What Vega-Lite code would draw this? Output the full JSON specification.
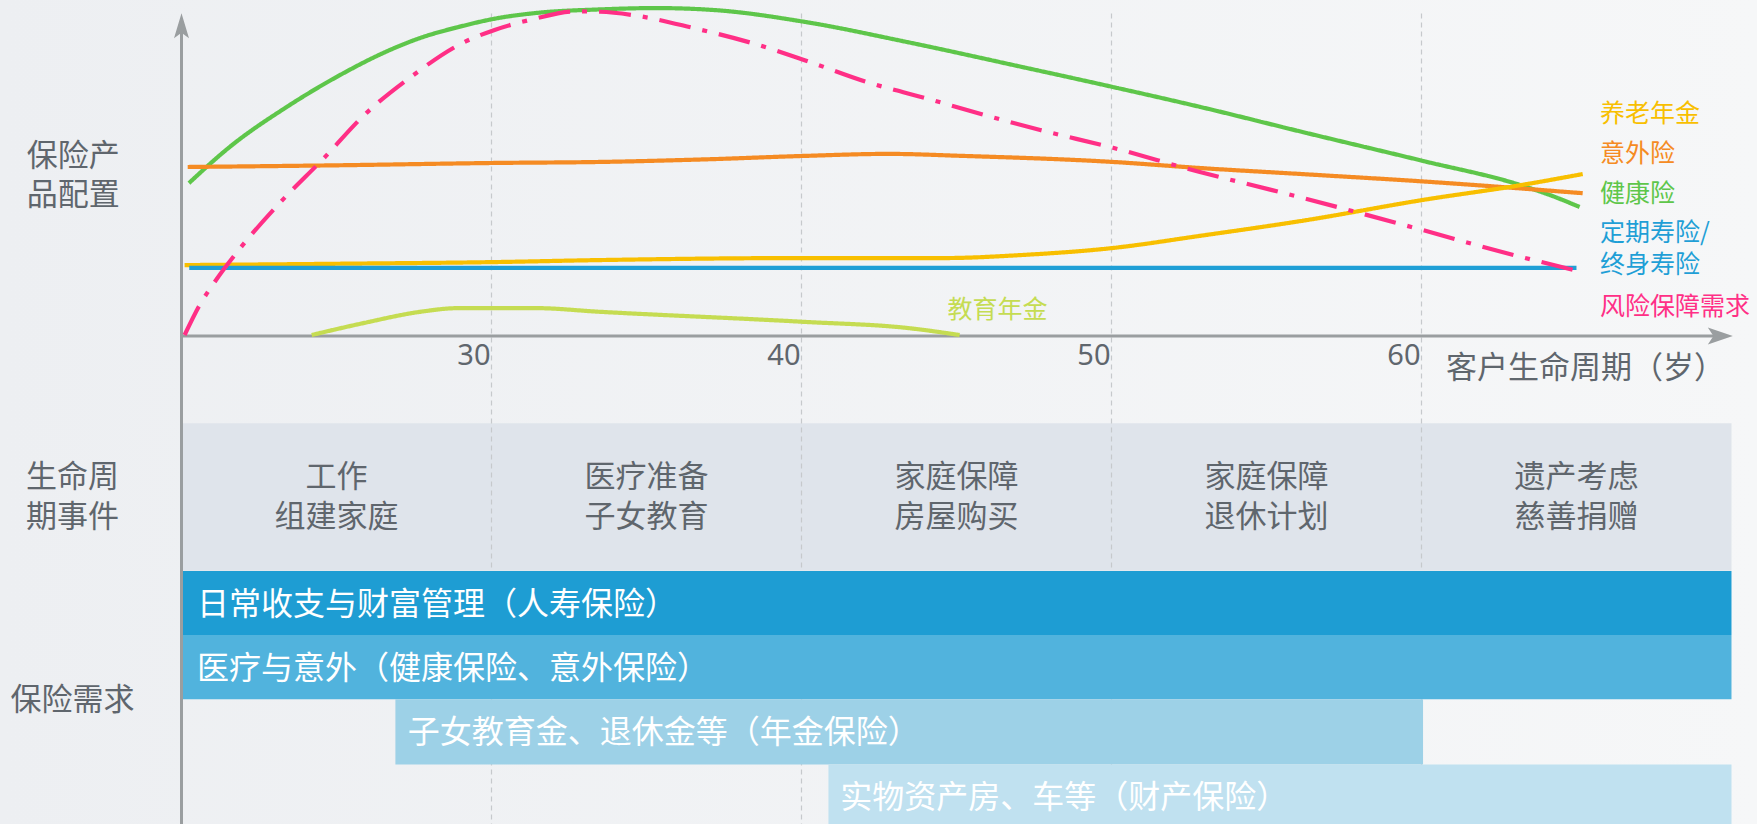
{
  "$schema": "https://vega.github.io/schema/vega-lite/v6.json",
  "width": 1757,
  "height": 824,
  "autosize": {"type": "none"},
  "padding": 0,
  "background": "#f1f3f5",
  "config": {"view": {"stroke": null}, "text": {"font": "Noto Sans CJK SC"}},
  "datasets": {
    "backdrop": [
      {"a0": 14.145, "a1": 70.823, "y0": -145.238, "y1": 100}
    ],
    "bands": [
      {"key": "事件带", "a0": 20, "a1": 70, "y0": -26.0, "y1": -69.9}
    ],
    "grid": [
      {"age": 30, "top": 96, "bottom": -145.238},
      {"age": 40, "top": 96, "bottom": -145.238},
      {"age": 50, "top": 96, "bottom": -145.238},
      {"age": 60, "top": 96, "bottom": -145.238}
    ],
    "bars": [
      {"key": "日常收支", "a0": 20, "a1": 70, "y0": -69.94, "y1": -88.99},
      {"key": "医疗意外", "a0": 20, "a1": 70, "y0": -88.99, "y1": -108.1},
      {"key": "年金", "a0": 26.9, "a1": 60.05, "y0": -108.1, "y1": -127.5},
      {"key": "财产", "a0": 40.87, "a1": 70, "y0": -127.5, "y1": -145.238}
    ],
    "axes": [
      {"a0": 20, "a1": 20, "y0": 92, "y1": -145.238},
      {"a0": 20, "a1": 69.5, "y0": 0, "y1": 0}
    ],
    "curves": [
      {"key": "健康险", "age": 20.24, "level": 45.5},
      {"key": "健康险", "age": 21.56, "level": 56.3},
      {"key": "健康险", "age": 23.4, "level": 68.2},
      {"key": "健康险", "age": 25.24, "level": 78.3},
      {"key": "健康险", "age": 26.5, "level": 84.2},
      {"key": "健康险", "age": 27.7, "level": 88.7},
      {"key": "健康险", "age": 28.95, "level": 92.0},
      {"key": "健康险", "age": 30.2, "level": 94.6},
      {"key": "健康险", "age": 31.4, "level": 96.1},
      {"key": "健康险", "age": 33.5, "level": 97.2},
      {"key": "健康险", "age": 35.3, "level": 97.6},
      {"key": "健康险", "age": 37.2, "level": 97.0},
      {"key": "健康险", "age": 40.1, "level": 93.5},
      {"key": "健康险", "age": 43.4, "level": 87.5},
      {"key": "健康险", "age": 47.1, "level": 80.1},
      {"key": "健康险", "age": 50.05, "level": 74.1},
      {"key": "健康险", "age": 52.85, "level": 68.2},
      {"key": "健康险", "age": 56.3, "level": 60.4},
      {"key": "健康险", "age": 60.05, "level": 52.1},
      {"key": "健康险", "age": 63.2, "level": 44.9},
      {"key": "健康险", "age": 64.3, "level": 41.4},
      {"key": "健康险", "age": 65.1, "level": 38.4},
      {"key": "意外险", "age": 20.2, "level": 50.3},
      {"key": "意外险", "age": 25.0, "level": 50.8},
      {"key": "意外险", "age": 30.1, "level": 51.5},
      {"key": "意外险", "age": 33.5, "level": 51.8},
      {"key": "意外险", "age": 37.0, "level": 52.6},
      {"key": "意外险", "age": 40.1, "level": 53.6},
      {"key": "意外险", "age": 42.8, "level": 54.2},
      {"key": "意外险", "age": 45.2, "level": 53.6},
      {"key": "意外险", "age": 50.05, "level": 51.8},
      {"key": "意外险", "age": 52.85, "level": 50.0},
      {"key": "意外险", "age": 56.5, "level": 48.0},
      {"key": "意外险", "age": 60.05, "level": 46.0},
      {"key": "意外险", "age": 65.2, "level": 42.5},
      {"key": "养老年金", "age": 20.1, "level": 21.1},
      {"key": "养老年金", "age": 25.0, "level": 21.5},
      {"key": "养老年金", "age": 30.1, "level": 22.0},
      {"key": "养老年金", "age": 33.5, "level": 22.6},
      {"key": "养老年金", "age": 40.1, "level": 23.2},
      {"key": "养老年金", "age": 44.6, "level": 23.2},
      {"key": "养老年金", "age": 47.1, "level": 24.1},
      {"key": "养老年金", "age": 50.05, "level": 26.2},
      {"key": "养老年金", "age": 52.85, "level": 29.8},
      {"key": "养老年金", "age": 56.3, "level": 34.5},
      {"key": "养老年金", "age": 60.05, "level": 40.5},
      {"key": "养老年金", "age": 63.2, "level": 44.9},
      {"key": "养老年金", "age": 65.2, "level": 48.2},
      {"key": "定期寿险", "age": 20.25, "level": 20.3},
      {"key": "定期寿险", "age": 65.0, "level": 20.3},
      {"key": "教育年金", "age": 24.2, "level": 0.3},
      {"key": "教育年金", "age": 25.9, "level": 3.9},
      {"key": "教育年金", "age": 27.7, "level": 7.2},
      {"key": "教育年金", "age": 28.95, "level": 8.3},
      {"key": "教育年金", "age": 31.4, "level": 8.3},
      {"key": "教育年金", "age": 33.5, "level": 7.2},
      {"key": "教育年金", "age": 40.1, "level": 4.2},
      {"key": "教育年金", "age": 43.4, "level": 2.4},
      {"key": "教育年金", "age": 45.1, "level": 0.3},
      {"key": "风险保障需求", "age": 20.1, "level": 0.3},
      {"key": "风险保障需求", "age": 20.56, "level": 8.8},
      {"key": "风险保障需求", "age": 21.05, "level": 15.8},
      {"key": "风险保障需求", "age": 21.9, "level": 26.2},
      {"key": "风险保障需求", "age": 23.2, "level": 39.9},
      {"key": "风险保障需求", "age": 24.6, "level": 53.0},
      {"key": "风险保障需求", "age": 25.9, "level": 65.8},
      {"key": "风险保障需求", "age": 27.4, "level": 77.1},
      {"key": "风险保障需求", "age": 29.0, "level": 86.9},
      {"key": "风险保障需求", "age": 30.1, "level": 91.1},
      {"key": "风险保障需求", "age": 31.3, "level": 94.2},
      {"key": "风险保障需求", "age": 32.7, "level": 96.6},
      {"key": "风险保障需求", "age": 33.5, "level": 96.5},
      {"key": "风险保障需求", "age": 34.7, "level": 95.3},
      {"key": "风险保障需求", "age": 36.5, "level": 91.7},
      {"key": "风险保障需求", "age": 38.4, "level": 87.2},
      {"key": "风险保障需求", "age": 40.1, "level": 82.1},
      {"key": "风险保障需求", "age": 42.1, "level": 75.6},
      {"key": "风险保障需求", "age": 44.0, "level": 70.8},
      {"key": "风险保障需求", "age": 45.9, "level": 65.8},
      {"key": "风险保障需求", "age": 47.7, "level": 61.3},
      {"key": "风险保障需求", "age": 50.05, "level": 56.0},
      {"key": "风险保障需求", "age": 52.85, "level": 48.8},
      {"key": "风险保障需求", "age": 55.15, "level": 43.5},
      {"key": "风险保障需求", "age": 57.4, "level": 38.1},
      {"key": "风险保障需求", "age": 60.05, "level": 31.5},
      {"key": "风险保障需求", "age": 62.6, "level": 25.0},
      {"key": "风险保障需求", "age": 65.2, "level": 19.0}
    ],
    "seriesLabels": [
      {"t": "养老年金", "key": "养老年金", "age": 65.76, "level": 66.1},
      {"t": "意外险", "key": "意外险", "age": 65.76, "level": 54.2},
      {"t": "健康险", "key": "健康险", "age": 65.76, "level": 42.4},
      {"t": "定期寿险/", "key": "定期寿险", "age": 65.76, "level": 30.6},
      {"t": "终身寿险", "key": "定期寿险", "age": 65.76, "level": 21.0},
      {"t": "风险保障需求", "key": "风险保障需求", "age": 65.76, "level": 8.7},
      {"t": "教育年金", "key": "教育年金", "age": 44.71, "level": 7.6}
    ],
    "ticks": [
      {"t": "30", "age": 30, "level": -6.0},
      {"t": "40", "age": 40, "level": -6.0},
      {"t": "50", "age": 50, "level": -6.0},
      {"t": "60", "age": 60, "level": -6.0}
    ],
    "axisTitle": [
      {"t": "客户生命周期（岁）", "age": 60.79, "level": -9.8}
    ],
    "sideLabels": [
      {"t": "保险产", "age": 15.01, "level": 53.2},
      {"t": "品配置", "age": 15.01, "level": 41.6},
      {"t": "生命周", "age": 14.98, "level": -42.2},
      {"t": "期事件", "age": 14.98, "level": -54.1},
      {"t": "保险需求", "age": 14.48, "level": -108.6}
    ],
    "events": [
      {"t": "工作", "age": 25, "level": -42.2},
      {"t": "组建家庭", "age": 25, "level": -54.1},
      {"t": "医疗准备", "age": 35, "level": -42.2},
      {"t": "子女教育", "age": 35, "level": -54.1},
      {"t": "家庭保障", "age": 45, "level": -42.2},
      {"t": "房屋购买", "age": 45, "level": -54.1},
      {"t": "家庭保障", "age": 55, "level": -42.2},
      {"t": "退休计划", "age": 55, "level": -54.1},
      {"t": "遗产考虑", "age": 65, "level": -42.2},
      {"t": "慈善捐赠", "age": 65, "level": -54.1}
    ],
    "barTexts": [
      {"t": "日常收支与财富管理（人寿保险）", "age": 20.5, "level": -80.1},
      {"t": "医疗与意外（健康保险、意外保险）", "age": 20.5, "level": -99.1},
      {"t": "子女教育金、退休金等（年金保险）", "age": 27.3, "level": -118.2},
      {"t": "实物资产房、车等（财产保险）", "age": 41.25, "level": -137.5}
    ]
  },
  "layer": [
    {
      "data": {"name": "backdrop"},
      "mark": {"type": "rect", "fill": {"gradient": "linear", "x1": 0, "y1": 0, "x2": 1, "y2": 0, "stops": [{"offset": 0, "color": "#edeff2"}, {"offset": 1, "color": "#f6f7f8"}]}},
      "encoding": {
        "x": {"field": "a0", "type": "quantitative", "scale": {"domain": [14.145, 70.823], "nice": false, "zero": false}, "axis": null},
        "x2": {"field": "a1"},
        "y": {"field": "y0", "type": "quantitative", "scale": {"domain": [-145.238, 100], "nice": false, "zero": false}, "axis": null},
        "y2": {"field": "y1"}
      }
    },
    {
      "data": {"name": "bands"},
      "mark": {"type": "rect"},
      "encoding": {
        "x": {"field": "a0", "type": "quantitative", "scale": {"domain": [14.145, 70.823], "nice": false, "zero": false}, "axis": null},
        "x2": {"field": "a1"},
        "y": {"field": "y0", "type": "quantitative", "scale": {"domain": [-145.238, 100], "nice": false, "zero": false}, "axis": null},
        "y2": {"field": "y1"},
        "color": {"field": "key", "type": "nominal", "legend": null,
          "scale": {"domain": ["健康险","意外险","养老年金","定期寿险","风险保障需求","教育年金","事件带","日常收支","医疗意外","年金","财产"],
                    "range": ["#5ec64a","#f58b23","#f8bf00","#1f9fd6","#ff2f86","#c5dc52","#dfe4eb","#1e9dd3","#51b3dd","#9dd1e7","#c0e1f0"]}}
      }
    },
    {
      "data": {"name": "grid"},
      "mark": {"type": "rule", "color": "#c6c9cc", "strokeWidth": 1.2, "strokeDash": [5, 4]},
      "encoding": {
        "x": {"field": "age", "type": "quantitative", "scale": {"domain": [14.145, 70.823], "nice": false, "zero": false}, "axis": null},
        "y": {"field": "top", "type": "quantitative", "scale": {"domain": [-145.238, 100], "nice": false, "zero": false}, "axis": null},
        "y2": {"field": "bottom"}
      }
    },
    {
      "data": {"name": "bars"},
      "mark": {"type": "rect"},
      "encoding": {
        "x": {"field": "a0", "type": "quantitative", "scale": {"domain": [14.145, 70.823], "nice": false, "zero": false}, "axis": null},
        "x2": {"field": "a1"},
        "y": {"field": "y0", "type": "quantitative", "scale": {"domain": [-145.238, 100], "nice": false, "zero": false}, "axis": null},
        "y2": {"field": "y1"},
        "color": {"field": "key", "type": "nominal", "legend": null}
      }
    },
    {
      "data": {"name": "axes"},
      "mark": {"type": "rule", "color": "#9a9ea0", "strokeWidth": 3},
      "encoding": {
        "x": {"field": "a0", "type": "quantitative", "scale": {"domain": [14.145, 70.823], "nice": false, "zero": false}, "axis": null},
        "x2": {"field": "a1"},
        "y": {"field": "y0", "type": "quantitative", "scale": {"domain": [-145.238, 100], "nice": false, "zero": false}, "axis": null},
        "y2": {"field": "y1"}
      }
    },
    {
      "data": {"values": [{"age": 20, "level": 92.3}]},
      "mark": {"type": "point", "filled": true, "opacity": 1, "color": "#9a9ea0", "size": 625, "shape": "M0,-1L0.6,1L0,0.55L-0.6,1Z"},
      "encoding": {
        "x": {"field": "age", "type": "quantitative", "scale": {"domain": [14.145, 70.823], "nice": false, "zero": false}, "axis": null},
        "y": {"field": "level", "type": "quantitative", "scale": {"domain": [-145.238, 100], "nice": false, "zero": false}, "axis": null}
      }
    },
    {
      "data": {"values": [{"age": 69.64, "level": 0}]},
      "mark": {"type": "point", "filled": true, "opacity": 1, "color": "#9a9ea0", "size": 625, "shape": "M1,0L-1,0.68L-0.55,0L-1,-0.68Z"},
      "encoding": {
        "x": {"field": "age", "type": "quantitative", "scale": {"domain": [14.145, 70.823], "nice": false, "zero": false}, "axis": null},
        "y": {"field": "level", "type": "quantitative", "scale": {"domain": [-145.238, 100], "nice": false, "zero": false}, "axis": null}
      }
    },
    {
      "data": {"name": "curves"},
      "mark": {"type": "line", "strokeWidth": 4.2, "interpolate": "monotone"},
      "encoding": {
        "x": {"field": "age", "type": "quantitative", "scale": {"domain": [14.145, 70.823], "nice": false, "zero": false}, "axis": null},
        "y": {"field": "level", "type": "quantitative", "scale": {"domain": [-145.238, 100], "nice": false, "zero": false}, "axis": null},
        "color": {"field": "key", "type": "nominal", "legend": null},
        "strokeDash": {"field": "key", "type": "nominal", "legend": null,
          "scale": {"domain": ["健康险","意外险","养老年金","定期寿险","风险保障需求","教育年金"],
                    "range": [[1,0],[1,0],[1,0],[1,0],[32,12,5,12],[1,0]]}}
      }
    },
    {
      "data": {"name": "seriesLabels"},
      "mark": {"type": "text", "align": "left", "baseline": "middle", "fontSize": 25},
      "encoding": {
        "x": {"field": "age", "type": "quantitative", "scale": {"domain": [14.145, 70.823], "nice": false, "zero": false}, "axis": null},
        "y": {"field": "level", "type": "quantitative", "scale": {"domain": [-145.238, 100], "nice": false, "zero": false}, "axis": null},
        "text": {"field": "t"},
        "color": {"field": "key", "type": "nominal", "legend": null}
      }
    },
    {
      "data": {"name": "ticks"},
      "mark": {"type": "text", "align": "right", "baseline": "middle", "fontSize": 29, "dx": -1, "color": "#5f666d", "font": "Noto Sans"},
      "encoding": {
        "x": {"field": "age", "type": "quantitative", "scale": {"domain": [14.145, 70.823], "nice": false, "zero": false}, "axis": null},
        "y": {"field": "level", "type": "quantitative", "scale": {"domain": [-145.238, 100], "nice": false, "zero": false}, "axis": null},
        "text": {"field": "t"}
      }
    },
    {
      "data": {"name": "axisTitle"},
      "mark": {"type": "text", "align": "left", "baseline": "middle", "fontSize": 31, "color": "#5f666d"},
      "encoding": {
        "x": {"field": "age", "type": "quantitative", "scale": {"domain": [14.145, 70.823], "nice": false, "zero": false}, "axis": null},
        "y": {"field": "level", "type": "quantitative", "scale": {"domain": [-145.238, 100], "nice": false, "zero": false}, "axis": null},
        "text": {"field": "t"}
      }
    },
    {
      "data": {"name": "sideLabels"},
      "mark": {"type": "text", "align": "left", "baseline": "middle", "fontSize": 31, "color": "#5f666d"},
      "encoding": {
        "x": {"field": "age", "type": "quantitative", "scale": {"domain": [14.145, 70.823], "nice": false, "zero": false}, "axis": null},
        "y": {"field": "level", "type": "quantitative", "scale": {"domain": [-145.238, 100], "nice": false, "zero": false}, "axis": null},
        "text": {"field": "t"}
      }
    },
    {
      "data": {"name": "events"},
      "mark": {"type": "text", "align": "center", "baseline": "middle", "fontSize": 31, "color": "#5f666d"},
      "encoding": {
        "x": {"field": "age", "type": "quantitative", "scale": {"domain": [14.145, 70.823], "nice": false, "zero": false}, "axis": null},
        "y": {"field": "level", "type": "quantitative", "scale": {"domain": [-145.238, 100], "nice": false, "zero": false}, "axis": null},
        "text": {"field": "t"}
      }
    },
    {
      "data": {"name": "barTexts"},
      "mark": {"type": "text", "align": "left", "baseline": "middle", "fontSize": 32, "color": "#ffffff"},
      "encoding": {
        "x": {"field": "age", "type": "quantitative", "scale": {"domain": [14.145, 70.823], "nice": false, "zero": false}, "axis": null},
        "y": {"field": "level", "type": "quantitative", "scale": {"domain": [-145.238, 100], "nice": false, "zero": false}, "axis": null},
        "text": {"field": "t"}
      }
    }
  ]
}
